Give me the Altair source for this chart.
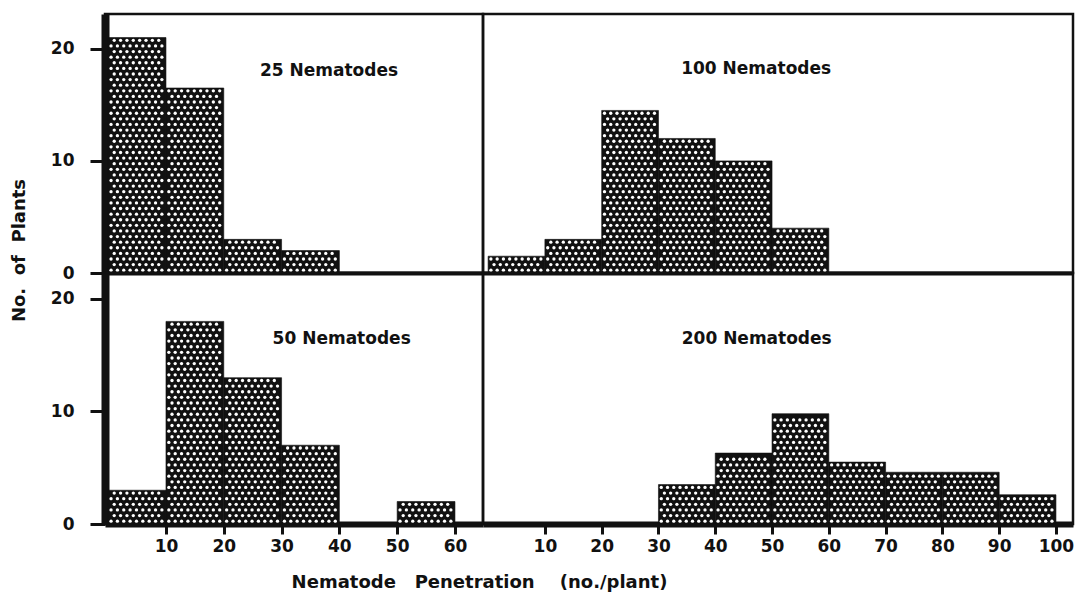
import altair as alt
import pandas as pd

# ---- data ----
bins_left = [0, 10, 20, 30, 40, 50]
bins_right = [0, 10, 20, 30, 40, 50, 60, 70, 80, 90]
counts_25 = [21, 16.5, 3, 2, 0, 0]
counts_50 = [3, 18, 13, 7, 0, 2]
counts_100 = [1.5, 3, 14.5, 12, 10, 4, 0, 0, 0, 0]
counts_200 = [0, 0, 0, 3.5, 6.3, 9.8, 5.5, 4.6, 4.6, 2.6]
panel_titles = ["25 Nematodes", "50 Nematodes", "100 Nematodes", "200 Nematodes"]
ticks_left = [10, 20, 30, 40, 50, 60]
ticks_right = [10, 20, 30, 40, 50, 60, 70, 80, 90, 100]
ticks_y = [0, 10, 20]
y_title = "No.\u00a0\u00a0of\u00a0\u00a0Plants"
x_title = "Nematode\u00a0\u00a0\u00a0Penetration\u00a0\u00a0\u00a0\u00a0(no./plant)"

FONT = "DejaVu Sans"
INK = "#111111"

AX_COMMON = dict(
    grid=False, domainColor=INK, tickColor=INK, labelColor=INK, titleColor=INK,
    labelFont=FONT, labelFontSize=17, labelFontWeight="bold",
    titleFont=FONT, titleFontSize=18, titleFontWeight="bold",
)


def panel(bins, counts, title, tx, ty, xdom, ydom, w, h, xaxis, yaxis):
    df = pd.DataFrame({"x0": bins, "x1": [b + 10 for b in bins], "n": counts})
    df = df[df["n"] > 0]
    base = alt.Chart(df)
    xs = alt.Scale(domain=xdom, nice=False, zero=False)
    ys = alt.Scale(domain=ydom, nice=False)
    bars = base.mark_rect(fill=INK, stroke=INK, strokeWidth=0.6).encode(
        x=alt.X("x0:Q", scale=xs, axis=xaxis),
        x2="x1:Q",
        y=alt.Y("n:Q", scale=ys, axis=yaxis),
        y2=alt.datum(0),
    )
    # halftone dots of the printed pattern, derived from each bar's extent
    dots = (
        base.transform_calculate(rows="sequence(0, ceil(datum.n / 0.5))")
        .transform_flatten(["rows"])
        .transform_calculate(cols="sequence(0, 10)")
        .transform_flatten(["cols"])
        .transform_calculate(
            px="datum.x0 + (datum.cols + 0.45 + (datum.rows % 2) * 0.5) * 1.1",
            py="(datum.rows + 0.5) * 0.5",
        )
        .transform_filter("datum.px < datum.x1 - 0.3 && datum.py < datum.n - 0.15")
        .mark_circle(color="white", size=11, opacity=1)
        .encode(
            x=alt.X("px:Q", scale=xs, axis=xaxis),
            y=alt.Y("py:Q", scale=ys, axis=yaxis),
        )
    )
    txt = alt.Chart(pd.DataFrame({"label": [title]})).mark_text(
        font=FONT, fontSize=17, fontWeight="bold", color=INK,
        align="center", baseline="middle",
    ).encode(x=alt.datum(tx), y=alt.datum(ty), text="label:N")
    return alt.layer(bars, dots, txt).properties(width=w, height=h)


top_x_axis = alt.Axis(labels=False, ticks=False, title=None, domainWidth=4, **AX_COMMON)

y_axis_top = alt.Axis(
    values=ticks_y, title=y_title, domainWidth=8, tickSize=15, tickWidth=3,
    labelPadding=16, titleX=-86, titleY=236, titleAngle=270,
    titleAlign="center", titleBaseline="middle", **AX_COMMON,
)
y_axis_bot = alt.Axis(
    values=ticks_y, title=None, domainWidth=8, tickSize=15, tickWidth=3,
    labelPadding=16, **AX_COMMON,
)
x_axis_bl = alt.Axis(
    values=ticks_left, title=x_title, domainWidth=6, tickSize=10, tickWidth=3,
    labelPadding=4, titleX=374, titleY=58, titleAlign="center",
    titleBaseline="middle", **AX_COMMON,
)
x_axis_br = alt.Axis(
    values=ticks_right, title=None, domainWidth=6, tickSize=10, tickWidth=3,
    labelPadding=4, **AX_COMMON,
)

LW, RW = 378, 590
TH, BH = 259, 251
LDOM = [-0.55, 64.85]
RDOM = [-0.9, 103.0]

tl = panel(bins_left, counts_25, panel_titles[0], 38.2, 18.0, LDOM, [0, 23.1], LW, TH,
           top_x_axis, y_axis_top)
tr = panel(bins_right, counts_100, panel_titles[2], 47.2, 18.2, RDOM, [0, 23.1], RW, TH,
           top_x_axis, None)
bl = panel(bins_left, counts_50, panel_titles[1], 40.4, 16.4, LDOM, [0, 22.3], LW, BH,
           x_axis_bl, y_axis_bot)
br = panel(bins_right, counts_200, panel_titles[3], 47.3, 16.4, RDOM, [0, 22.3], RW, BH,
           x_axis_br, None)

chart = (
    alt.concat(tl, tr, bl, br, columns=2, spacing=0, bounds="flush")
    .properties(padding={"left": 0, "top": 4, "right": 2, "bottom": 0}, background="white")
    .configure_view(stroke=INK, strokeWidth=2.5)
)

chart.save("out.html", embed_options={"renderer": "svg", "actions": False})
